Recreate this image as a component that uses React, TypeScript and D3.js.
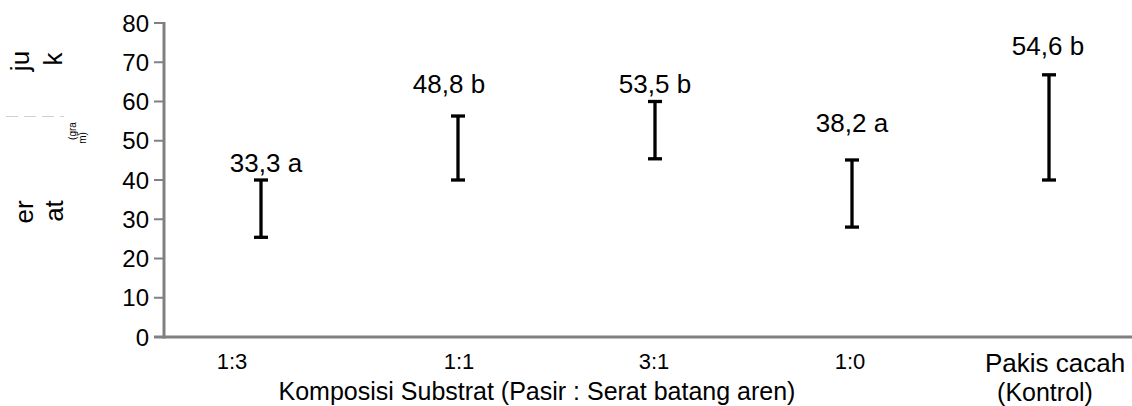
import React from "react";
import * as d3 from "d3";

const categories = ["1:3", "1:1", "3:1", "1:0", "Pakis cacah"];
const categorySub = ["", "", "", "", "(Kontrol)"];
const means = [33.3, 48.8, 53.5, 38.2, 54.6];
const letters = ["a", "b", "b", "a", "b"];
const lows = [25.4, 40, 45.4, 28, 40];
const highs = [40, 56.3, 60, 45.1, 66.8];
const yTicks = [0, 10, 20, 30, 40, 50, 60, 70, 80];
// label anchor heights (in data units) as placed in the source
const labelLevels = [42.0, 62.2, 62.2, 52.2, 71.8];
const labelDx = [5, -9, 0, 0, -1];
const catDx = [-29, 1, -1, -2, 6];
const catSize = [22, 22, 22, 22, 26];

const W = 1132;
const H = 406;
const FONT = "'Liberation Sans', Arial, sans-serif";

export default function App() {
  const x = d3.scalePoint<string>().domain(categories).range([261, 1049]);
  const y = d3.scaleLinear().domain([0, 80]).range([337, 23]);
  const axisX = 164;
  const gray = "#808080";
  const fmt = (v: number) => v.toFixed(1).replace(".", ",");

  return (
    <svg
      width={W}
      height={H}
      style={{ position: "absolute", left: 0, top: 0, background: "#fff" }}
      fontFamily={FONT}
    >
      {/* garbled y-axis title fragments */}
      <g fill="#000" fontSize={26}>
        <text transform="translate(29,61) rotate(-90)" textAnchor="middle">ju</text>
        <text transform="translate(62,59) rotate(-90)" textAnchor="middle">k</text>
        <text transform="translate(33,212) rotate(-90)" textAnchor="middle">er</text>
        <text transform="translate(63,211) rotate(-90)" textAnchor="middle">at</text>
      </g>
      <g fill="#000" fontSize={10}>
        <text transform="translate(76,131) rotate(-90)" textAnchor="middle">(gra</text>
        <text transform="translate(86,138) rotate(-90)" textAnchor="middle">m)</text>
      </g>
      <line x1={6} x2={64} y1={116.5} y2={116.5} stroke="#d0d0d0" strokeWidth={1} strokeDasharray="12 6" />

      {/* y axis */}
      <line x1={axisX} x2={axisX} y1={y(80) - 1} y2={y(0) + 1.5} stroke={gray} strokeWidth={3} />
      {yTicks.map((t) => (
        <g key={t}>
          <line x1={axisX - 10} x2={axisX} y1={y(t)} y2={y(t)} stroke={gray} strokeWidth={2} />
          <text x={axisX - 15} y={y(t)} dy="0.36em" textAnchor="end" fontSize={24} fill="#000">
            {t}
          </text>
        </g>
      ))}
      {/* x axis */}
      <line x1={axisX - 10} x2={W} y1={y(0)} y2={y(0)} stroke={gray} strokeWidth={3} />

      {/* error bars */}
      {categories.map((c, i) => {
        const cx = x(c)!;
        return (
          <g key={c} stroke="#000" strokeWidth={3.3}>
            <line x1={cx} x2={cx} y1={y(highs[i])} y2={y(lows[i])} />
            <line x1={cx - 7} x2={cx + 7} y1={y(highs[i])} y2={y(highs[i])} />
            <line x1={cx - 7} x2={cx + 7} y1={y(lows[i])} y2={y(lows[i])} />
          </g>
        );
      })}

      {/* value labels */}
      {categories.map((c, i) => (
        <text
          key={c + "v"}
          x={x(c)! + labelDx[i]}
          y={y(labelLevels[i])}
          textAnchor="middle"
          fontSize={26}
          fill="#000"
        >
          {fmt(means[i]) + " " + letters[i]}
        </text>
      ))}

      {/* category labels */}
      {categories.map((c, i) => (
        <g key={c + "c"}>
          <text
            x={x(c)! + catDx[i]}
            y={i === 4 ? 372 : 369}
            textAnchor="middle"
            fontSize={catSize[i]}
            fill="#000"
          >
            {c}
          </text>
          {categorySub[i] && (
            <text x={x(c)! - 4} y={401} textAnchor="middle" fontSize={25} fill="#000">
              {categorySub[i]}
            </text>
          )}
        </g>
      ))}
      <text x={537} y={400} textAnchor="middle" fontSize={25} fill="#000">
        Komposisi Substrat (Pasir : Serat batang aren)
      </text>
    </svg>
  );
}
